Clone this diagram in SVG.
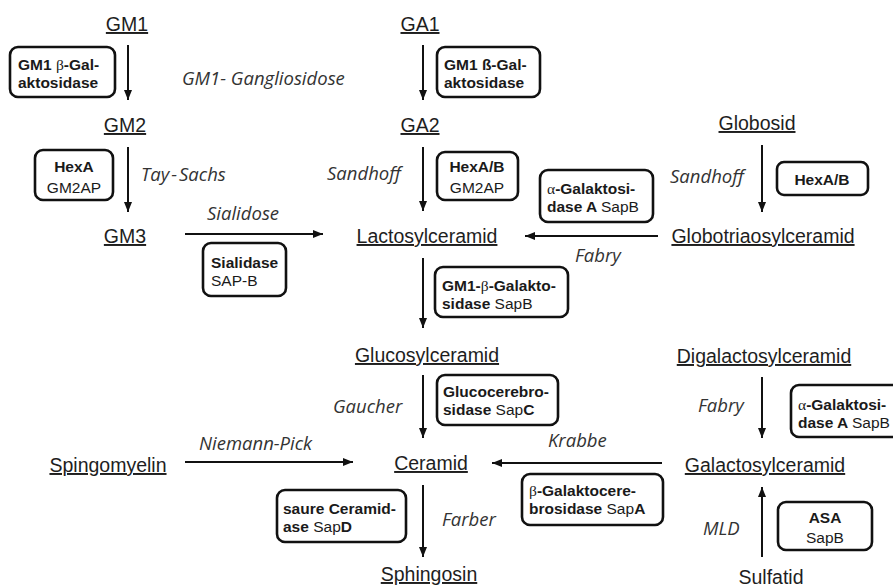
<svg xmlns="http://www.w3.org/2000/svg" width="893" height="588" viewBox="0 0 893 588">
<style>
.n{font-family:"Liberation Sans",Arial,sans-serif;font-size:19.5px;fill:#1e1e1e;text-anchor:middle;text-decoration:underline;}
.nu{font-family:"Liberation Sans",Arial,sans-serif;font-size:19.5px;fill:#1e1e1e;text-anchor:middle;}
.d{font-family:"Open Sans","DejaVu Sans",sans-serif;font-style:italic;font-size:18.5px;fill:#333;}
.b{fill:#fff;stroke:#111;stroke-width:2.6;}
.t{font-family:"Liberation Sans",Arial,sans-serif;font-size:15.5px;font-weight:bold;fill:#1a1a1a;}
.c{text-anchor:middle;}
.r{font-weight:normal;}
.g{font-family:"Liberation Serif","Times New Roman",serif;font-weight:normal;}
.a{stroke:#111;stroke-width:2;fill:none;marker-end:url(#ah);}
</style>
<defs>
<marker id="ah" viewBox="0 0 10 8" refX="10" refY="4" markerWidth="10" markerHeight="8" orient="auto" markerUnits="userSpaceOnUse"><path d="M0,0 L10,4 L0,8 z" fill="#111"/></marker>
</defs>
<rect width="893" height="588" fill="#fff"/>
<g id="connectors">
<line class="a" x1="128" y1="45" x2="128" y2="100"/>
<line class="a" x1="128" y1="147" x2="128" y2="212"/>
<line class="a" x1="423" y1="45" x2="423" y2="100"/>
<line class="a" x1="423" y1="147" x2="423" y2="211"/>
<line class="a" x1="762" y1="145" x2="762" y2="212"/>
<line class="a" x1="185" y1="234" x2="323" y2="234"/>
<line class="a" x1="658" y1="236" x2="525" y2="236"/>
<line class="a" x1="423" y1="258" x2="423" y2="328"/>
<line class="a" x1="423" y1="375" x2="423" y2="438"/>
<line class="a" x1="423" y1="485" x2="423" y2="557"/>
<line class="a" x1="185" y1="462" x2="353" y2="462"/>
<line class="a" x1="662" y1="463" x2="492" y2="463"/>
<line class="a" x1="762" y1="377" x2="762" y2="438"/>
<line class="a" x1="762" y1="557" x2="762" y2="487"/>
</g>
<g id="labels">
<text class="d" x="182" y="85">GM1- Gangliosidose</text>
<text class="d" x="141" y="181">Tay<tspan dx="2">-</tspan><tspan dx="2">Sachs</tspan></text>
<text class="d" x="207" y="220">Sialidose</text>
<text class="d" x="327" y="180">Sandhoff</text>
<text class="d" x="670" y="183">Sandhoff</text>
<text class="d" x="575" y="262">Fabry</text>
<text class="d" x="333" y="413">Gaucher</text>
<text class="d" x="199" y="450">Niemann-Pick</text>
<text class="d" x="548" y="447">Krabbe</text>
<text class="d" x="442" y="526">Farber</text>
<text class="d" x="698" y="412">Fabry</text>
<text class="d" x="703" y="535">MLD</text>
</g>
<g id="GM1"><text class="n" x="127" y="31">GM1</text></g>
<g id="GA1"><text class="n" x="420" y="31">GA1</text></g>
<g id="GM2"><text class="n" x="125" y="132">GM2</text></g>
<g id="GA2"><text class="n" x="420" y="132">GA2</text></g>
<g id="GM3"><text class="n" x="125" y="243">GM3</text></g>
<g id="Globosid"><text class="n" x="757" y="130">Globosid</text></g>
<g id="Lactosylceramid"><text class="n" x="427" y="243">Lactosylceramid</text></g>
<g id="Globotriaosylceramid"><text class="n" x="763" y="243">Globotriaosylceramid</text></g>
<g id="Glucosylceramid"><text class="n" x="427" y="362">Glucosylceramid</text></g>
<g id="Digalactosylceramid"><text class="n" x="764" y="363">Digalactosylceramid</text></g>
<g id="Spingomyelin"><text class="n" x="108" y="472">Spingomyelin</text></g>
<g id="Ceramid"><text class="n" x="431" y="470">Ceramid</text></g>
<g id="Galactosylceramid"><text class="n" x="765" y="472">Galactosylceramid</text></g>
<g id="Sphingosin"><text class="n" x="429" y="581">Sphingosin</text></g>
<g id="Sulfatid"><text class="nu" x="771" y="584">Sulfatid</text></g>
<g id="enz-gm1">
<rect class="b" x="10" y="47" width="105" height="50" rx="8"/>
<text class="t" x="18" y="70">GM1 <tspan class="g">β</tspan>-Gal-</text>
<text class="t" x="18" y="88">aktosidase</text>
</g>
<g id="enz-ga1">
<rect class="b" x="437" y="47" width="103" height="50" rx="8"/>
<text class="t" x="444" y="70">GM1 ß-Gal-</text>
<text class="t" x="444" y="88">aktosidase</text>
</g>
<g id="enz-hexa">
<rect class="b" x="35" y="150" width="78" height="50" rx="8"/>
<text class="t c" x="74" y="172">HexA</text>
<text class="t c r" x="74" y="193">GM2AP</text>
</g>
<g id="enz-hexab">
<rect class="b" x="437" y="152" width="81" height="48" rx="8"/>
<text class="t c" x="477" y="172">HexA/B</text>
<text class="t c r" x="477" y="193">GM2AP</text>
</g>
<g id="enz-sialidase">
<rect class="b" x="203" y="243" width="83" height="53" rx="8"/>
<text class="t" x="211" y="268">Sialidase</text>
<text class="t r" x="211" y="286">SAP-B</text>
</g>
<g id="enz-agal1">
<rect class="b" x="540" y="170" width="113" height="52" rx="8"/>
<text class="t" x="547" y="194"><tspan class="g">α</tspan>-Galaktosi-</text>
<text class="t" x="547" y="212">dase A <tspan class="r">SapB</tspan></text>
</g>
<g id="enz-hexab2">
<rect class="b" x="777" y="162" width="91" height="33" rx="7"/>
<text class="t c" x="822" y="185">HexA/B</text>
</g>
<g id="enz-gm1b">
<rect class="b" x="435" y="267" width="133" height="50" rx="8"/>
<text class="t" x="442" y="291">GM1-<tspan class="g">β</tspan>-Galakto-</text>
<text class="t" x="442" y="309">sidase <tspan class="r">SapB</tspan></text>
</g>
<g id="enz-gluco">
<rect class="b" x="437" y="375" width="121" height="50" rx="8"/>
<text class="t" x="443" y="397">Glucocerebro-</text>
<text class="t" x="443" y="415">sidase <tspan class="r">Sap</tspan>C</text>
</g>
<g id="enz-saure">
<rect class="b" x="277" y="490" width="129" height="52" rx="8"/>
<text class="t" x="283" y="514">saure Ceramid-</text>
<text class="t" x="283" y="532">ase <tspan class="r">Sap</tspan>D</text>
</g>
<g id="enz-bgal">
<rect class="b" x="522" y="474" width="141" height="51" rx="8"/>
<text class="t" x="529" y="496"><tspan class="g">β</tspan>-Galaktocere-</text>
<text class="t" x="529" y="514">brosidase <tspan class="r">Sap</tspan>A</text>
</g>
<g id="enz-agal2">
<rect class="b" x="791" y="385" width="115" height="52" rx="8"/>
<text class="t" x="798" y="410"><tspan class="g">α</tspan>-Galaktosi-</text>
<text class="t" x="798" y="428">dase A <tspan class="r">SapB</tspan></text>
</g>
<g id="enz-asa">
<rect class="b" x="778" y="502" width="94" height="48" rx="8"/>
<text class="t c" x="825" y="523">ASA</text>
<text class="t c r" x="825" y="543">SapB</text>
</g>
</svg>
